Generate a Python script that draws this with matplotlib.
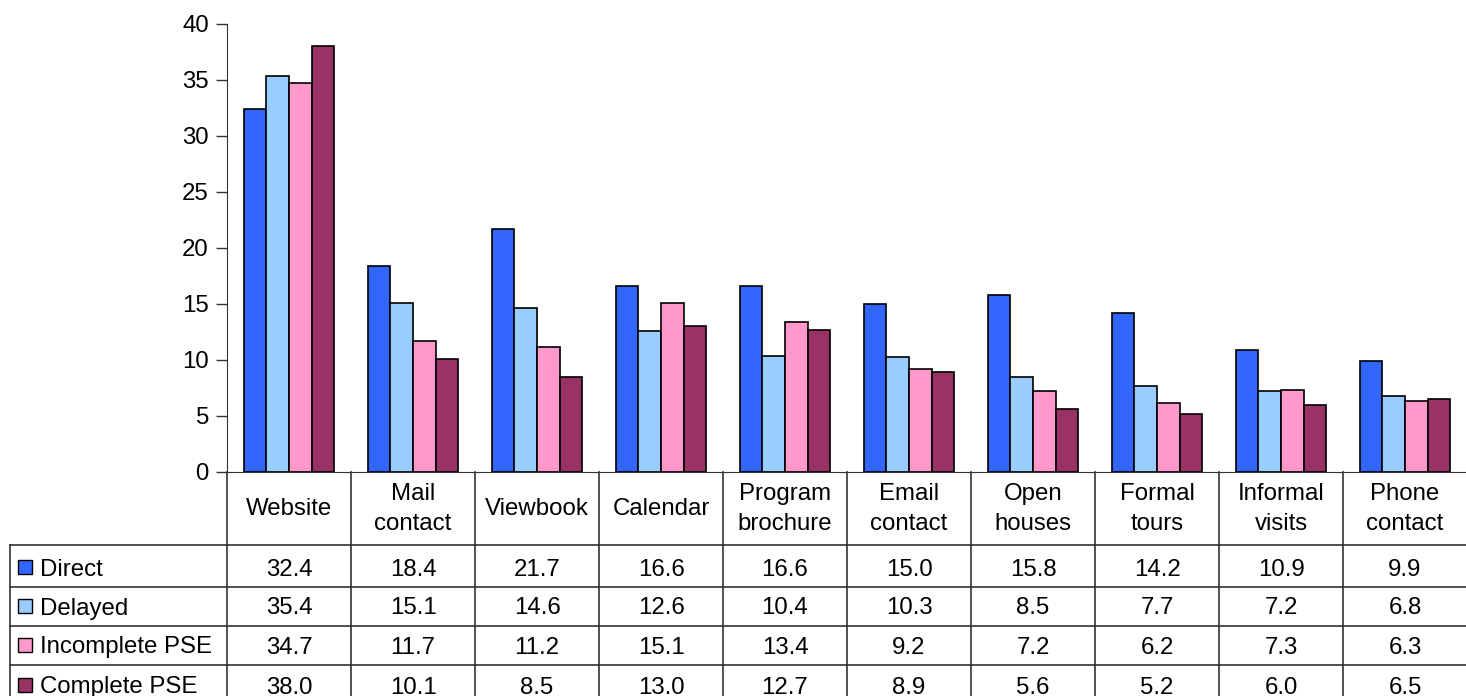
import matplotlib
matplotlib.use("Agg")
import matplotlib.pyplot as plt
from matplotlib.lines import Line2D
from matplotlib.patches import Rectangle
import numpy as np

categories = ["Website", "Mail\ncontact", "Viewbook", "Calendar", "Program\nbrochure",
              "Email\ncontact", "Open\nhouses", "Formal\ntours", "Informal\nvisits", "Phone\ncontact"]
series_names = ["Direct", "Delayed", "Incomplete PSE", "Complete PSE"]
direct = [32.4, 18.4, 21.7, 16.6, 16.6, 15.0, 15.8, 14.2, 10.9, 9.9]
delayed = [35.4, 15.1, 14.6, 12.6, 10.4, 10.3, 8.5, 7.7, 7.2, 6.8]
incomplete = [34.7, 11.7, 11.2, 15.1, 13.4, 9.2, 7.2, 6.2, 7.3, 6.3]
complete = [38.0, 10.1, 8.5, 13.0, 12.7, 8.9, 5.6, 5.2, 6.0, 6.5]
colors = ["#3366FF", "#99CCFF", "#FF99CC", "#993366"]
yticks = [0, 5, 10, 15, 20, 25, 30, 35, 40]

plt.rcParams['font.family'] = ['Liberation Sans', 'DejaVu Sans']
FS = 17.3
W, H = 1466, 696
fig = plt.figure(figsize=(W / 100, H / 100), dpi=100)

def fx(px):
    return px / W

def fy(py):
    return 1 - py / H

ax_left, ax_right, ax_top, ax_bot = 227, 1467, 24, 472
ax = fig.add_axes([fx(ax_left), fy(ax_bot), fx(ax_right) - fx(ax_left), fy(ax_top) - fy(ax_bot)])
n = len(categories)
data = [direct, delayed, incomplete, complete]
x = np.arange(n)
bw = 0.183
for i, (vals, c) in enumerate(zip(data, colors)):
    ax.bar(x + (i - 1.5) * bw, vals, width=bw, color=c, edgecolor="black", linewidth=1.2, zorder=3)

ax.set_xlim(-0.5, n - 0.5)
ax.set_ylim(0, 40)
ax.set_yticks(yticks)
ax.set_yticklabels([str(t) for t in yticks], fontsize=FS)
ax.tick_params(axis='y', direction='out', length=8, width=1, colors='#333333', labelcolor='black', pad=5)
ax.set_xticks([])
for s in ["top", "right"]:
    ax.spines[s].set_visible(False)
ax.spines["left"].set_color("#333333")
ax.spines["bottom"].set_color("#333333")

# Data table
col_w = (ax_right - ax_left) / n
lc = "#333333"
lw = 1.2
header_bottom = 545
row_edges = [545, 587, 626, 665, 705]
row_centers = [567, 606, 645, 685]
table_left = 10

def hline(y, x0, x1):
    fig.add_artist(Line2D([fx(x0), fx(x1)], [fy(y), fy(y)], color=lc, lw=lw))

def vline(xp, y0, y1):
    fig.add_artist(Line2D([fx(xp), fx(xp)], [fy(y0), fy(y1)], color=lc, lw=lw))

for y in row_edges[:-1]:
    hline(y, table_left, W)
vline(table_left, header_bottom, H)
for j in range(n + 1):
    vline(ax_left + j * col_w, ax_bot, H)

for j, cat in enumerate(categories):
    cx = ax_left + (j + 0.5) * col_w
    fig.text(fx(cx), fy(509), cat, ha="center", va="center",
             fontsize=FS, linespacing=1.42)

for i, (name, vals, c) in enumerate(zip(series_names, data, colors)):
    cy = row_centers[i]
    fig.add_artist(Rectangle((fx(18), fy(cy + 7)), fx(14), fy(0) - fy(14),
                             facecolor=c, edgecolor="black", lw=1.0))
    fig.text(fx(40), fy(cy), name, ha="left", va="center_baseline", fontsize=FS)
    for j, v in enumerate(vals):
        cx = ax_left + (j + 0.5) * col_w
        fig.text(fx(cx), fy(cy), f"{v:.1f}", ha="center", va="center_baseline", fontsize=FS)

fig.savefig("out.png", dpi=100)
